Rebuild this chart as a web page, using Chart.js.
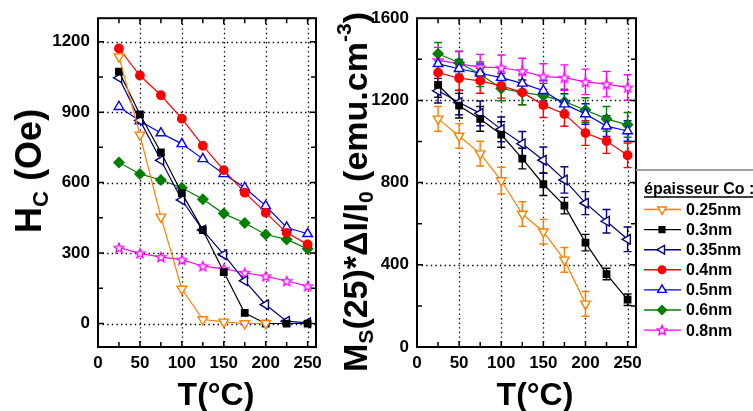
<!DOCTYPE html>
<html>
<head>
<meta charset="utf-8">
<script src="https://cdn.jsdelivr.net/npm/chart.js@4.4.1/dist/chart.umd.min.js"></script>
<style>
  body { margin: 0; width: 753px; height: 411px; background: #fff; position: relative; overflow: hidden;
         font-family: "Liberation Sans", Arial, sans-serif; }
  canvas { position: absolute; top: 0; }
  #hcChart { left: 0; }
  #msChart { left: 330px; }
  .title { position: absolute; font-weight: bold; white-space: nowrap; line-height: 1; color: #000;
           transform: translate(-50%, -50%); }
  .rot { transform: translate(-50%, -50%) rotate(-90deg); }
  .sub { font-size: 0.62em; position: relative; top: 0.3em; }
  .sup { font-size: 0.62em; position: relative; top: -0.75em; }
</style>
</head>
<body>
<canvas id="hcChart" width="330" height="411"></canvas>
<canvas id="msChart" width="423" height="411"></canvas>
<div class="title rot" style="left:29px; top:171px; font-size:36px;">H<span class="sub">C</span> (Oe)</div>
<div class="title rot" style="left:355px; top:192px; font-size:34px;">M<span class="sub">S</span>(25)*ΔI/I<span class="sub">0</span> (emu.cm<span class="sup">-3</span>)</div>
<div class="title" style="left:216px; top:394px; font-size:32px;">T(°C)</div>
<div class="title" style="left:535px; top:394px; font-size:32px;">T(°C)</div>
<script>
// données
const temps = [25, 50, 75, 100, 125, 150, 175, 200, 225, 250];
const thickness = ["0.25nm", "0.3nm", "0.35nm", "0.4nm", "0.5nm", "0.6nm", "0.8nm"];
const legendTitle = "épaisseur Co :";
const xTicks = [0, 50, 100, 150, 200, 250];
const hcTicks = [0, 300, 600, 900, 1200];
const msTicks = [0, 400, 800, 1200, 1600];

// Hc (Oe)
const hc025 = [1136, 803, 454, 147, 17, 7, 0, 0];
const hc03 = [1073, 890, 729, 555, 398, 219, 45, 0, 0, 0];
const hc035 = [1046, 865, 695, 526, 398, 293, 182, 80, 10, 3];
const hc04 = [1171, 1056, 972, 872, 757, 653, 557, 472, 386, 337];
const hc05 = [923, 862, 811, 765, 701, 637, 578, 501, 409, 382];
const hc06 = [686, 637, 611, 578, 529, 468, 428, 379, 358, 318];
const hc08 = [323, 299, 283, 272, 244, 233, 216, 201, 181, 159];

// Ms(25)*dI/I0 (emu.cm-3)
const ms025 = [1110, 1027, 941, 810, 647, 561, 424, 210];
const ms03 = [1275, 1174, 1110, 1034, 917, 792, 688, 508, 355, 230];
const ms035 = [1247, 1190, 1137, 1059, 989, 909, 813, 700, 612, 524];
const ms04 = [1335, 1308, 1295, 1271, 1239, 1177, 1134, 1041, 1002, 933];
const ms05 = [1378, 1354, 1332, 1311, 1283, 1247, 1182, 1134, 1075, 1051];
const ms06 = [1427, 1383, 1327, 1258, 1239, 1223, 1194, 1153, 1110, 1081];
const ms08 = [1396, 1378, 1362, 1359, 1343, 1316, 1311, 1290, 1279, 1263];

// barres d'erreur
const err025 = [60, 60, 60, 65, 60, 60, 60, 60];
const err03 = [60, 60, 60, 62, 50, 55, 40, 40, 28, 28];
const err035 = [60, 60, 60, 60, 60, 64, 64, 56, 57, 60];
const err04 = [60, 60, 60, 60, 60, 60, 60, 60, 60, 60];
const err05 = [45, 45, 45, 45, 45, 50, 50, 50, 50, 50];
const err06 = [55, 55, 60, 60, 60, 60, 60, 60, 60, 60];
const err08 = [62, 62, 62, 62, 62, 62, 62, 62, 62, 62];

// étoile ouverte (pas d'équivalent dans Chart.js)
function makeStar(size) {
  const c = document.createElement("canvas");
  c.width = size; c.height = size;
  const g = c.getContext("2d");
  const cx = size / 2, cy = size / 2 + 0.5, R = size / 2 - 1, r = R * 0.45;
  g.beginPath();
  for (let i = 0; i < 10; i++) {
    const a = -Math.PI / 2 + i * Math.PI / 5;
    const rr = i % 2 === 0 ? R : r;
    g.lineTo(cx + rr * Math.cos(a), cy + rr * Math.sin(a));
  }
  g.closePath();
  g.fillStyle = "#fff"; g.fill();
  g.strokeStyle = "#ff00ff"; g.lineWidth = 1.4; g.stroke();
  return c;
}

const styles = [
  { color: "#ff8000", pointStyle: "triangle", rotation: 180, open: true, radius: 5.5 },
  { color: "#000000", pointStyle: "rect", rotation: 0, open: false, radius: 4.5 },
  { color: "#000080", pointStyle: "triangle", rotation: 270, open: true, radius: 5.5 },
  { color: "#ff0000", pointStyle: "circle", rotation: 0, open: false, radius: 4.2 },
  { color: "#0000ff", pointStyle: "triangle", rotation: 0, open: true, radius: 5.5 },
  { color: "#008000", pointStyle: "rectRot", rotation: 0, open: false, radius: 5 },
  { color: "#ff00ff", pointStyle: makeStar(12), rotation: 0, open: true, radius: 6 },
];

function makeSets(series, errors) {
  return series.map((vals, i) => {
    const s = styles[i];
    return {
      label: thickness[i],
      data: vals.map((v, j) => ({ x: temps[j], y: v })),
      errors: errors ? errors[i] : null,
      borderColor: s.color,
      borderWidth: 1.2,
      pointStyle: s.pointStyle,
      rotation: s.rotation,
      pointRadius: s.radius,
      pointBorderWidth: 1.4,
      pointBorderColor: s.color,
      pointBackgroundColor: s.open ? "#fff" : s.color,
      tension: 0,
    };
  });
}

// grille pointillée, barres d'erreur, cadre et graduations internes
function makeFrame(cfg) {
  return {
    id: "frame",
    beforeDatasetsDraw(chart) {
      const { ctx, chartArea: a, scales: { x, y } } = chart;
      ctx.save();
      ctx.strokeStyle = "#000";
      ctx.lineWidth = 1.3;
      ctx.setLineDash([1.4, 3.2]);
      cfg.xGrid.filter((v) => v > x.min && v < x.max).forEach((v) => {
        const px = Math.round(x.getPixelForValue(v)) + 0.5;
        ctx.beginPath(); ctx.moveTo(px, a.bottom); ctx.lineTo(px, a.top); ctx.stroke();
      });
      cfg.yGrid.filter((v) => v > y.min && v < y.max).forEach((v) => {
        const py = Math.round(y.getPixelForValue(v)) + 0.5;
        ctx.beginPath(); ctx.moveTo(a.left, py); ctx.lineTo(a.right, py); ctx.stroke();
      });
      ctx.setLineDash([]);

      // barres d'erreur
      chart.data.datasets.forEach((ds) => {
        if (!ds.errors) return;
        ctx.strokeStyle = ds.borderColor;
        ctx.lineWidth = 1.4;
        ds.data.forEach((p, j) => {
          const e = ds.errors[j];
          const px = x.getPixelForValue(p.x);
          const top = y.getPixelForValue(p.y + e);
          const bot = y.getPixelForValue(p.y - e);
          ctx.beginPath();
          ctx.moveTo(px, top); ctx.lineTo(px, bot);
          ctx.moveTo(px - 4, top); ctx.lineTo(px + 4, top);
          ctx.moveTo(px - 4, bot); ctx.lineTo(px + 4, bot);
          ctx.stroke();
        });
      });
      ctx.restore();
    },
    afterDatasetsDraw(chart) {
      const { ctx, chartArea: a, scales: { x, y } } = chart;
      ctx.save();
      ctx.strokeStyle = "#000";
      ctx.lineWidth = 1.5;
      for (let v = cfg.xStep / 2; v < x.max; v += cfg.xStep / 2) {
        const len = v % cfg.xStep === 0 ? 6 : 5;
        const px = x.getPixelForValue(v);
        ctx.beginPath();
        ctx.moveTo(px, a.bottom); ctx.lineTo(px, a.bottom - len);
        ctx.moveTo(px, a.top); ctx.lineTo(px, a.top + len);
        ctx.stroke();
      }
      const y0 = cfg.yGrid[0];
      for (let v = y0 - cfg.yStep; v < y.max; v += cfg.yStep / 2) {
        if (v <= y.min) continue;
        const len = (v - y0) % cfg.yStep === 0 ? 6 : 5;
        const py = y.getPixelForValue(v);
        ctx.beginPath();
        ctx.moveTo(a.left, py); ctx.lineTo(a.left + len, py);
        ctx.moveTo(a.right, py); ctx.lineTo(a.right - len, py);
        ctx.stroke();
      }
      ctx.lineWidth = 2;
      ctx.strokeRect(a.left, a.top, a.right - a.left, a.bottom - a.top);
      ctx.restore();
    },
  };
}

// légende encadrée à droite du second graphique
const boxLegend = {
  id: "boxLegend",
  afterDraw(chart) {
    const { ctx, chartArea: a } = chart;
    const left = a.right;
    ctx.save();
    ctx.strokeStyle = "#a0a0a0";
    ctx.lineWidth = 2;
    ctx.beginPath(); ctx.moveTo(left, 170); ctx.lineTo(chart.width, 170); ctx.stroke();

    ctx.fillStyle = "#000";
    ctx.font = "bold 16px 'Liberation Sans', Arial, sans-serif";
    ctx.textBaseline = "alphabetic";
    ctx.textAlign = "left";
    ctx.fillText(legendTitle, left + 8, 194);
    const w = ctx.measureText(legendTitle).width;
    ctx.strokeStyle = "#000";
    ctx.lineWidth = 1.5;
    ctx.beginPath(); ctx.moveTo(left + 8, 197); ctx.lineTo(left + 8 + w, 197); ctx.stroke();

    ctx.textBaseline = "middle";
    chart.data.datasets.forEach((ds, i) => {
      const s = styles[i];
      const yy = 209.5 + i * 20.1;
      ctx.strokeStyle = s.color;
      ctx.lineWidth = 1.4;
      ctx.beginPath(); ctx.moveTo(left + 8, yy); ctx.lineTo(left + 45, yy); ctx.stroke();
      ctx.fillStyle = s.open ? "#fff" : s.color;
      Chart.helpers.drawPoint(ctx, {
        pointStyle: s.pointStyle, rotation: s.rotation,
        radius: s.radius * 0.9, borderWidth: 1.4,
      }, left + 26, yy);
      ctx.fillStyle = "#000";
      ctx.fillText(ds.label, left + 50, yy + 1);
    });
    ctx.restore();
  },
};

const tickFont = { family: "'Liberation Sans', Arial, sans-serif", size: 17, weight: "bold" };

function axisX() {
  return {
    type: "linear", min: 0, max: 260,
    afterBuildTicks: (s) => { s.ticks = xTicks.map((v) => ({ value: v })); },
    afterFit: (s) => { s.height = 64; },
    grid: { display: false, drawTicks: false },
    border: { display: false },
    ticks: { font: tickFont, color: "#000", padding: 6, maxRotation: 0, autoSkip: false,
             callback: (v) => String(v) },
  };
}

function axisY(min, max, ticks, width) {
  return {
    type: "linear", min: min, max: max,
    afterBuildTicks: (s) => { s.ticks = ticks.map((v) => ({ value: v })); },
    afterFit: (s) => { s.width = width; },
    grid: { display: false, drawTicks: false },
    border: { display: false },
    ticks: { font: tickFont, color: "#000", padding: 8, autoSkip: false,
             callback: (v) => String(v) },
  };
}

new Chart(document.getElementById("hcChart"), {
  type: "line",
  data: { datasets: makeSets([hc025, hc03, hc035, hc04, hc05, hc06, hc08], null) },
  options: {
    responsive: false, animation: false, devicePixelRatio: 1,
    layout: { padding: { left: 0, right: 14, top: 15, bottom: 0 } },
    plugins: { legend: { display: false }, tooltip: { enabled: false } },
    scales: { x: axisX(), y: axisY(-100, 1300, hcTicks, 98) },
  },
  plugins: [makeFrame({ xGrid: xTicks, yGrid: hcTicks, xStep: 50, yStep: 300 })],
});

new Chart(document.getElementById("msChart"), {
  type: "line",
  data: {
    datasets: makeSets([ms025, ms03, ms035, ms04, ms05, ms06, ms08],
      [err025, err03, err035, err04, err05, err06, err08]),
  },
  options: {
    responsive: false, animation: false, devicePixelRatio: 1,
    layout: { padding: { left: 0, right: 117, top: 15, bottom: 0 } },
    plugins: { legend: { display: false }, tooltip: { enabled: false } },
    scales: { x: axisX(), y: axisY(0, 1600, msTicks, 87) },
  },
  plugins: [makeFrame({ xGrid: xTicks, yGrid: msTicks, xStep: 50, yStep: 400 }), boxLegend],
});
</script>
</body>
</html>
